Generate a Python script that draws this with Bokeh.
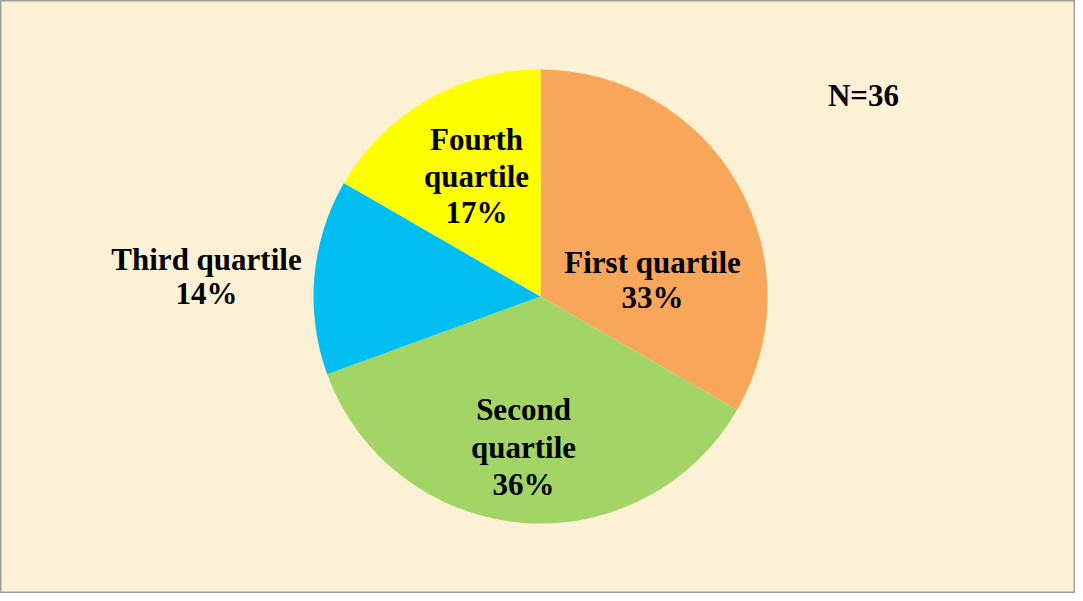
import math
from bokeh.plotting import figure
from bokeh.models import Range1d, ColumnDataSource
from bokeh.core.properties import value
from bokeh.embed import file_html
from bokeh.resources import INLINE

# ---- data ----
categories = ["First quartile", "Second quartile", "Third quartile", "Fourth quartile"]
counts = [12, 13, 5, 6]
colors = ["#F8A65A", "#A2D565", "#00BEF2", "#FFFF00"]
total_label = "N=36"

# ---- layout (pixels, figure coords) ----
W, H = 1075, 593
cx, cy_top, R = 540, 296, 227
# label line positions (x, y from top) for each category, lines split
label_lines = [
    [("First quartile", 652, 262), ("{p}", 652, 297)],
    [("Second", 523, 409), ("quartile", 523, 447), ("{p}", 523, 484)],
    [("Third quartile", 206, 259), ("{p}", 206, 293)],
    [("Fourth", 476, 139), ("quartile", 476, 176), ("{p}", 476, 212)],
]
n_pos = (863, 95)

total = sum(counts)
starts, ends = [], []
a = math.pi / 2
for c in counts:
    sweep = 2 * math.pi * c / total
    ends.append(a)
    starts.append(a - sweep)
    a -= sweep
pcts = ["%d%%" % round(100 * c / total) for c in counts]

p = figure(width=W, height=H, output_backend="svg", toolbar_location=None,
           x_range=Range1d(0, W), y_range=Range1d(0, H), min_border=0,
           background_fill_color="#FCF1D5", border_fill_color="#FCF1D5")
p.axis.visible = False
p.grid.visible = False
p.outline_line_color = "#A0A0A0"
p.outline_line_width = 2

src = ColumnDataSource(dict(x=[cx] * len(counts), y=[H - cy_top] * len(counts),
                            start=starts, end=ends, color=colors, cat=categories))
p.wedge(x="x", y="y", radius=R, start_angle="start", end_angle="end",
        fill_color="color", line_color=None, source=src)

tx, ty, tt = [], [], []
for lines, pc in zip(label_lines, pcts):
    for t, x, y in lines:
        tx.append(x)
        ty.append(H - y)
        tt.append(t.format(p=pc))
tx.append(n_pos[0]); ty.append(H - n_pos[1]); tt.append(total_label)

p.text(x=tx, y=ty, text=tt, text_font=value("Liberation Serif"),
       text_font_style="bold", text_font_size="31px", text_color="black",
       text_align="center", text_baseline="middle")

open("out.html", "w").write(file_html(p, INLINE))
